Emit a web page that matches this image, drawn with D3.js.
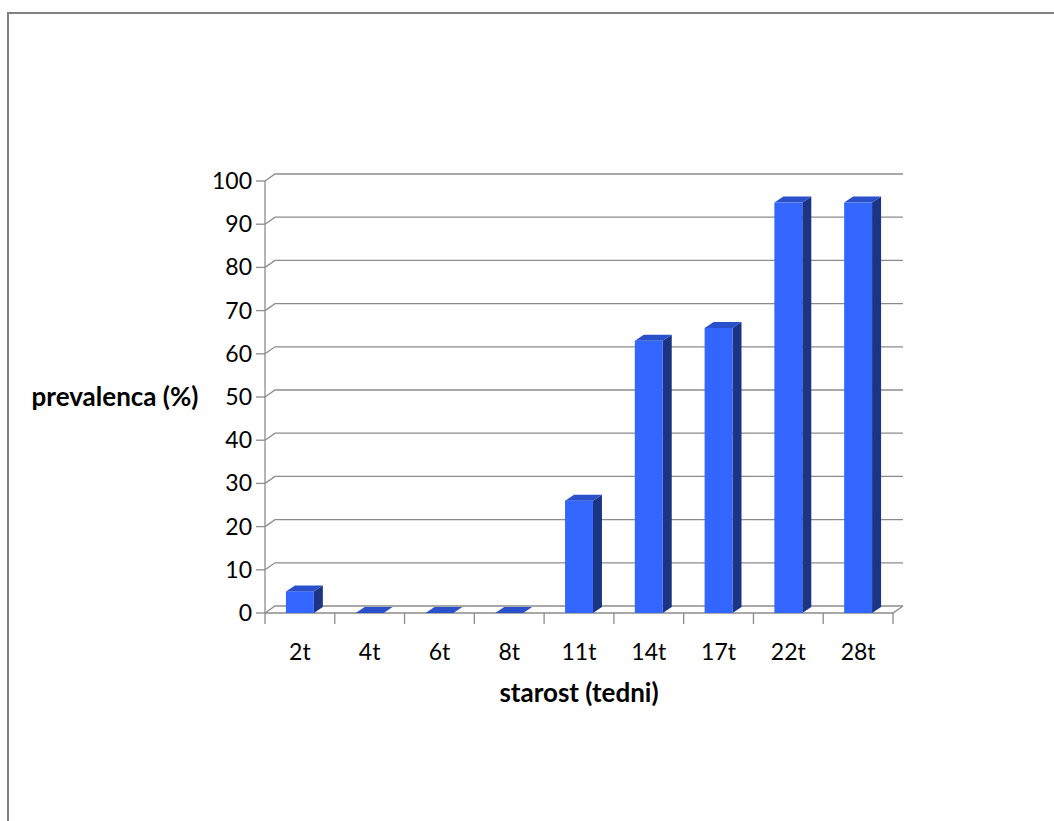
<!DOCTYPE html>
<html>
<head>
<meta charset="utf-8">
<script src="https://cdn.jsdelivr.net/npm/d3@7"></script>
<style>
html,body{margin:0;padding:0;background:#fff;}
svg{display:block;}
text{font-family:Lato,"Open Sans",sans-serif;fill:#000;}
</style>
</head>
<body>
<svg id="chart" width="1054" height="821"></svg>
<script>
const categories = ["2t","4t","6t","8t","11t","14t","17t","22t","28t"];
const values = [5, 0, 0, 0, 26, 63, 66, 95, 95];
const yTicks = [0,10,20,30,40,50,60,70,80,90,100];
const yTitle = "prevalenca (%)";
const xTitle = "starost (tedni)";

(function(){
const svg = d3.select("#chart");
const W = 1054, H = 821;

svg.append("rect").attr("x",8).attr("y",13).attr("width",W).attr("height",H)
  .attr("fill","none").attr("stroke","#808080").attr("stroke-width",2);

const pLeft = 265, pRight = 893, pBottom = 613, pTop = 181;
const DX = 10, DY = -7;
const bDX = 9, bDY = -6;

const x = d3.scaleBand().domain(categories).range([pLeft,pRight]).paddingInner(0.6).paddingOuter(0.3);
const y = d3.scaleLinear().domain([0,100]).range([pBottom,pTop]);
const step = x.step();

const grid = svg.append("g");
yTicks.forEach(t=>{
  const yy = y(t);
  grid.append("path")
    .attr("d", `M${pLeft},${yy}L${pLeft+DX},${yy+DY}L${pRight+DX},${yy+DY}`)
    .attr("fill","none").attr("stroke","#8c8c8c").attr("stroke-width",1.3);
  grid.append("line").attr("x1",pLeft-9).attr("x2",pLeft).attr("y1",yy).attr("y2",yy)
    .attr("stroke","#8c8c8c").attr("stroke-width",1.3);
});
grid.append("path")
  .attr("d", `M${pLeft},${pBottom}L${pRight},${pBottom}L${pRight+DX},${pBottom+DY}`)
  .attr("fill","none").attr("stroke","#8c8c8c").attr("stroke-width",1.3);
grid.append("line").attr("x1",pLeft).attr("x2",pLeft).attr("y1",y(100)).attr("y2",pBottom)
  .attr("stroke","#8c8c8c").attr("stroke-width",1.3);
const bounds = categories.map(c => x(c) - step*0.3).concat([pRight]);
bounds.forEach(bx=>{
  grid.append("line").attr("x1",bx).attr("x2",bx).attr("y1",pBottom).attr("y2",pBottom+11)
    .attr("stroke","#8c8c8c").attr("stroke-width",1.3);
});

const bars = svg.append("g");
categories.forEach((c,i)=>{
  const v = values[i];
  const x0 = x(c), x1 = x(c)+x.bandwidth();
  const y0 = y(v), yb = y(0);
  if (v > 0) {
    bars.append("path")
      .attr("d", `M${x1},${y0}L${x1+bDX},${y0+bDY}L${x1+bDX},${yb+bDY}L${x1},${yb}Z`)
      .attr("fill","#1c3484");
    bars.append("rect").attr("x",x0).attr("y",y0).attr("width",x1-x0).attr("height",yb-y0)
      .attr("fill","#3366ff");
  }
  bars.append("path")
    .attr("d", `M${x0},${y0}L${x0+bDX},${y0+bDY}L${x1+bDX},${y0+bDY}L${x1},${y0}Z`)
    .attr("fill","#2a50cc");
});

const lab = svg.append("g").attr("font-size","23px");
yTicks.forEach(t=>{
  lab.append("text").attr("x",252).attr("y",y(t)).attr("dy","0.35em")
    .attr("text-anchor","end").text(t);
});
categories.forEach(c=>{
  lab.append("text").attr("x",x(c)+x.bandwidth()/2).attr("y",652).attr("dy","0.35em")
    .attr("text-anchor","middle").text(c);
});
svg.append("text").attr("x",115).attr("y",397).attr("dy","0.35em")
  .attr("text-anchor","middle").attr("font-weight","bold").attr("font-size","26px").text(yTitle);
svg.append("text").attr("x",579).attr("y",693).attr("dy","0.35em")
  .attr("text-anchor","middle").attr("font-weight","bold").attr("font-size","26px").text(xTitle);
})();
</script>
</body>
</html>
